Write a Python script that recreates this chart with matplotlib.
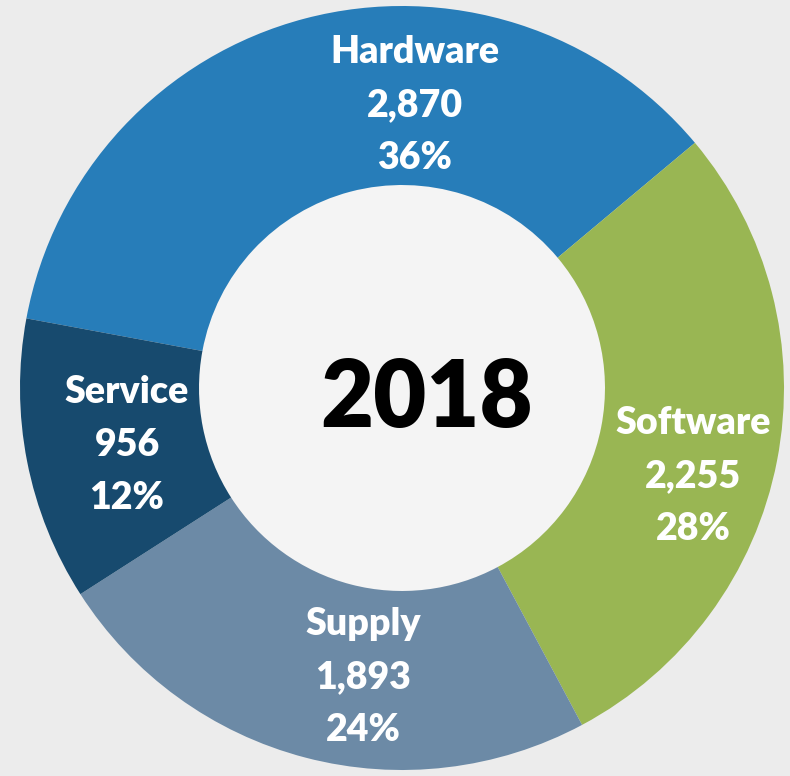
import matplotlib
matplotlib.use("Agg")
from matplotlib import pyplot as plt
from matplotlib.patches import Circle

# segment data (2018)
categories = ["Hardware", "Software", "Supply", "Service"]
values = [2870, 2255, 1893, 956]
percent_labels = ["36%", "28%", "24%", "12%"]
colors = ["#277db9", "#99b653", "#6c8aa6", "#174a6e"]
center_title = "2018"

# hand-placed label anchors (pixels, y from top) like the original slide
label_pos = [(415, 105), (693, 476), (363, 677), (127, 445)]

W, H = 790, 776
cx, cy = 402, 388
r_out, r_in = 382, 203

fig = plt.figure(figsize=(W / 100, H / 100), dpi=100)
fig.patch.set_facecolor("#ececec")
ax = fig.add_axes([0, 0, 1, 1])

# pie draws with y up, so flip the start angle for the y-down axes
wedges, _ = ax.pie(
    values,
    colors=colors,
    startangle=-169.5,
    counterclock=True,
    center=(cx, cy),
    radius=r_out,
    wedgeprops=dict(width=r_out - r_in, linewidth=0),
    frame=True,
)
ax.set_xlim(0, W)
ax.set_ylim(H, 0)
ax.set_aspect("equal")
ax.axis("off")

ax.add_patch(Circle((cx, cy), r_in, facecolor="#f4f4f4", edgecolor="none", zorder=0.5))

font = "Lato"
for name, val, pct, (x, y) in zip(categories, values, percent_labels, label_pos):
    ax.text(x, y, f"{name}\n{val:,}\n{pct}", ha="center", va="center",
            color="white", fontsize=27, fontweight="heavy", family=font,
            linespacing=1.68)

ax.text(427, 400, center_title, ha="center", va="center", color="black",
        fontsize=66, fontweight="heavy", family=font)

fig.savefig("out.png", dpi=100, facecolor=fig.get_facecolor())
